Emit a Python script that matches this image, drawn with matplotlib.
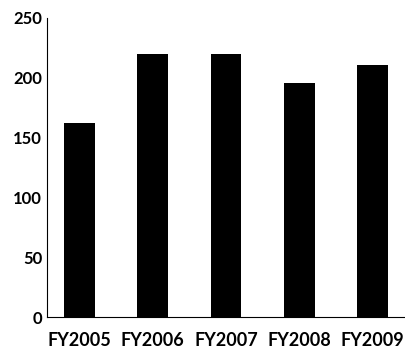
import matplotlib
matplotlib.use('Agg')
import matplotlib.pyplot as plt

# valores por año fiscal
years = ['FY2005', 'FY2006', 'FY2007', 'FY2008', 'FY2009']
values = [162, 220, 220, 196, 211]
yticks = [0, 50, 100, 150, 200, 250]

plt.rcParams['font.family'] = ['Lato', 'DejaVu Sans']

fig = plt.figure(figsize=(4.06, 3.49), dpi=100)
ax = fig.add_axes([47 / 406, 32 / 349, 358 / 406, 299 / 349])

x = range(len(years))
ax.bar(x, values, width=0.42, color='black')

ax.set_xlim(-0.44, 4.44)
ax.set_ylim(0, 250)
ax.set_yticks(yticks)
ax.set_xticks(list(x))
ax.set_xticklabels(years)

for s in ['top', 'right']:
    ax.spines[s].set_visible(False)
for s in ['left', 'bottom']:
    ax.spines[s].set_linewidth(0.8)

ax.tick_params(axis='x', length=0, labelsize=13, pad=11)
ax.tick_params(axis='y', length=0, labelsize=12, pad=3.5)
for lbl in ax.get_xticklabels() + ax.get_yticklabels():
    lbl.set_fontweight('bold')

fig.savefig('out.png', dpi=100)
